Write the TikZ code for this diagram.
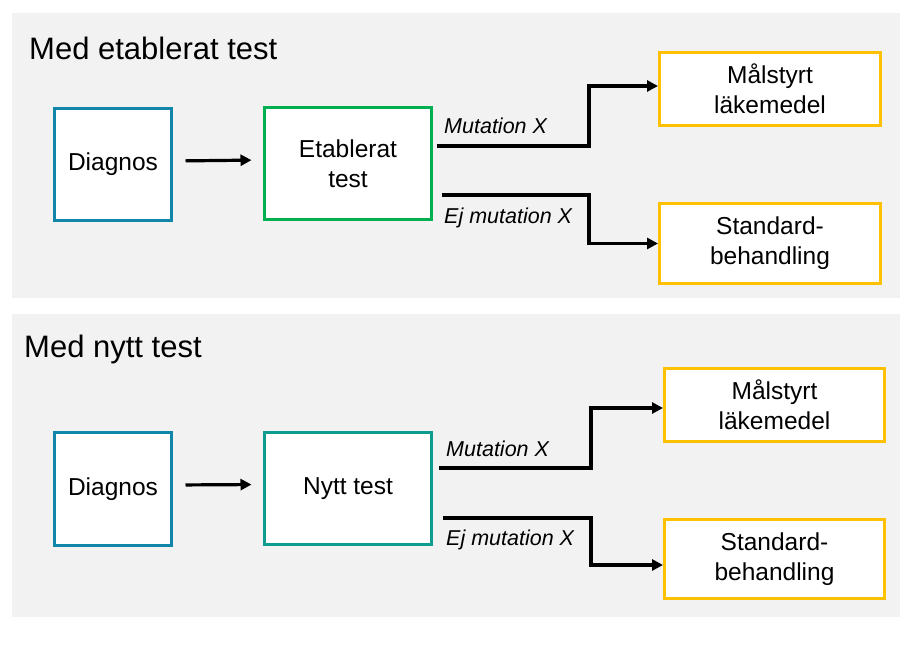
\documentclass[tikz,border=0pt]{standalone}
\usepackage{fontspec}
\setmainfont{Liberation Sans}
\usetikzlibrary{arrows.meta}

\definecolor{panelgray}{HTML}{F2F2F2}
\definecolor{diagblue}{HTML}{1086A8}
\definecolor{estgreen}{HTML}{00B050}
\definecolor{newteal}{HTML}{0E9C8E}
\definecolor{outyellow}{HTML}{FFC000}

\tikzset{
  panel/.style={fill=panelgray, draw=none},
  box/.style={draw, line width=3pt, fill=white, align=center, inner sep=0pt,
              font=\fontsize{24.5}{30}\selectfont},
  heading/.style={anchor=base west, inner sep=0pt, font=\fontsize{31}{36}\selectfont},
  branchlabel/.style={anchor=base west, inner sep=0pt, font=\fontsize{21.5}{26}\selectfont\itshape},
  arrowline/.style={line width=3.2pt, -{Triangle[length=11pt,width=11pt]}},
  branch/.style={line width=3.2pt, line join=miter, -{Triangle[length=11pt,width=11pt]}}
}

\begin{document}
\begin{tikzpicture}[x=1pt, y=-1pt]
  \useasboundingbox (0,0) rectangle (901,650);

  % background panels
  \fill[panel] (12,13) rectangle (900,298);
  \fill[panel] (12,314) rectangle (900,617);

  % ---------- established test ----------
  \node[heading] (h1) at (29,60) {Med etablerat test};

  \node[box, draw=diagblue, minimum width=117pt, minimum height=112pt] (d1) at (113,164.5) {Diagnos};
  \node[box, draw=estgreen, minimum width=167pt, minimum height=112pt] (t1) at (348,163.5) {Etablerat\\test};
  \node[box, draw=outyellow, minimum width=221pt, minimum height=73pt] (m1) at (770,89) {Målstyrt\\läkemedel};
  \node[box, draw=outyellow, minimum width=221pt, minimum height=80pt] (s1) at (770,243.5) {Standard-\\behandling};

  \draw[arrowline, shorten <=12.5pt, shorten >=11.5pt] ([yshift=3.5pt]d1.east) -- ([yshift=3.5pt]t1.west);

  \coordinate (a1) at (437,146);
  \coordinate (m1in) at ([yshift=3pt]m1.west);
  \coordinate (b1) at (589,86);
  \draw[branch] (a1) -| (b1) -- (m1in);

  \coordinate (e1) at (442,195);
  \coordinate (c1) at (589,243.5);
  \draw[branch] (e1) -| (c1) -- (s1.west);

  \node[branchlabel] (l1) at (444,133) {Mutation X};
  \node[branchlabel] (l2) at (444,223) {Ej mutation X};

  % ---------- new test ----------
  \node[heading] (h2) at (24,357) {Med nytt test};

  \node[box, draw=diagblue, minimum width=117pt, minimum height=113pt] (d2) at (113,489) {Diagnos};
  \node[box, draw=newteal, minimum width=167pt, minimum height=112pt] (t2) at (348,488.5) {Nytt test};
  \node[box, draw=outyellow, minimum width=220pt, minimum height=73pt] (m2) at (774.5,405) {Målstyrt\\läkemedel};
  \node[box, draw=outyellow, minimum width=220pt, minimum height=79pt] (s2) at (774.5,559) {Standard-\\behandling};

  \draw[arrowline, shorten <=12.5pt, shorten >=11.5pt] ([yshift=4pt]d2.east) -- ([yshift=4pt]t2.west);

  \coordinate (a2) at (439,468);
  \coordinate (m2in) at ([yshift=-3pt]m2.west);
  \coordinate (b2) at (591,408);
  \draw[branch] (a2) -| (b2) -- (m2in);

  \coordinate (e2) at (443,518);
  \coordinate (s2in) at ([yshift=-6pt]s2.west);
  \coordinate (c2) at (591,565);
  \draw[branch] (e2) -| (c2) -- (s2in);

  \node[branchlabel] (l3) at (446,456) {Mutation X};
  \node[branchlabel] (l4) at (446,545) {Ej mutation X};
\end{tikzpicture}
\end{document}
